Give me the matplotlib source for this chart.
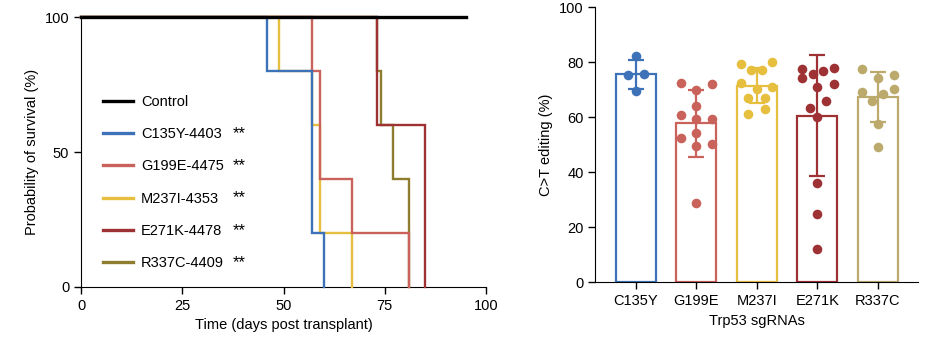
import numpy as np
import matplotlib
matplotlib.use('Agg')
import matplotlib.pyplot as plt

plt.rcParams['font.family'] = ['Liberation Sans', 'DejaVu Sans']
plt.rcParams['font.size'] = 10.5

# Datos de supervivencia (Kaplan-Meier, % vivos)
control_t = [0, 95]
control_s = [100, 100]
c135y_t = [0, 46, 57, 60]
c135y_s = [100, 80, 20, 0]
g199e_t = [0, 57, 59, 67, 81]
g199e_s = [100, 80, 40, 20, 0]
m237i_t = [0, 49, 57, 59, 67]
m237i_s = [100, 80, 60, 20, 0]
e271k_t = [0, 73, 85]
e271k_s = [100, 60, 0]
r337c_t = [0, 73, 74, 77, 81]
r337c_s = [100, 80, 60, 40, 0]
surv_labels = ['Control', 'C135Y-4403', 'G199E-4475', 'M237I-4353', 'E271K-4478', 'R337C-4409']

# Datos de edicion C>T (%)
groups = ['C135Y', 'G199E', 'M237I', 'E271K', 'R337C']
means = [75.7, 57.8, 71.5, 60.6, 67.5]
sds = [5.2, 12.1, 6.4, 22.0, 9.0]
c135y_pts = [82.4, 75.6, 75.8, 69.7]
g199e_pts = [72.4, 69.9, 72.0, 64.2, 60.8, 59.4, 59.4, 54.5, 52.6, 49.7, 50.5, 28.7]
m237i_pts = [79.6, 80.2, 77.2, 77.2, 72.4, 70.5, 71.1, 67.1, 67.2, 61.4, 63.0]
e271k_pts = [77.5, 74.5, 75.9, 76.9, 77.8, 71.1, 72.0, 65.9, 63.6, 60.0, 36.0, 24.7, 12.1]
r337c_pts = [77.7, 74.2, 75.4, 69.3, 70.3, 68.4, 65.9, 57.6, 49.3]

# Desplazamiento horizontal de los puntos (tipo beeswarm)
c135y_off = [0, -0.13, 0.14, 0]
g199e_off = [-0.26, 0, 0.26, 0, -0.26, 0, 0.26, 0, -0.26, 0, 0.26, 0]
m237i_off = [-0.27, 0.25, -0.09, 0.08, -0.27, 0, 0.25, -0.14, 0.14, -0.14, 0.14]
e271k_off = [-0.26, -0.26, -0.08, 0.09, 0.27, 0, 0.27, 0.14, -0.13, 0, 0, 0, 0]
r337c_off = [-0.26, 0, 0.26, -0.26, 0.26, 0.09, -0.09, 0, 0]

line_colors = ['black', '#3d72b8', '#c9625b', '#e6bf3e', '#9e3133', '#8f7d2f']
bar_colors = ['#3d72b8', '#c9625b', '#e6bf3e', '#9e3133', '#bcaa6c']

fig = plt.figure(figsize=(9.42, 3.53), dpi=100)
ax1 = fig.add_axes([0.086, 0.187, 0.430, 0.764])
ax2 = fig.add_axes([0.632, 0.200, 0.343, 0.779])

# ---- Grafica de supervivencia ----
curves = [(control_t, control_s), (c135y_t, c135y_s), (g199e_t, g199e_s),
          (m237i_t, m237i_s), (e271k_t, e271k_s), (r337c_t, r337c_s)]
handles = [None] * len(curves)
for i in range(len(curves) - 1, -1, -1):
    t, s = curves[i]
    lw = 2.4 if i == 0 else 1.7
    z = 5 if i == 0 else 3
    h, = ax1.step(t, s, where='post', color=line_colors[i], lw=lw, zorder=z,
                  clip_on=False, solid_joinstyle='miter')
    handles[i] = h

ax1.set_xlim(0, 100)
ax1.set_ylim(0, 100)
ax1.set_xticks([0, 25, 50, 75, 100])
ax1.set_yticks([0, 50, 100])
ax1.spines['top'].set_visible(False)
ax1.spines['right'].set_visible(False)
ax1.tick_params(direction='out', length=5, width=1)
ax1.set_xlabel('Time (days post transplant)')
ax1.set_ylabel('Probability of survival (%)')

leg = ax1.legend(handles, surv_labels, loc='upper left', bbox_to_anchor=(0.028, 0.75),
                 frameon=False, handlelength=2.1, handletextpad=0.55, labelspacing=1.25,
                 borderaxespad=0.3, fontsize=10.5)
for lh in leg.get_lines():
    lh.set_linewidth(2.4)

# Asteriscos de significancia junto a la leyenda (misma linea base)
fig.canvas.draw()
inv = fig.transFigure.inverted()
for txt in leg.get_texts()[1:]:
    bb = txt.get_window_extent()
    x_f, y_f = inv.transform((233, bb.y0))
    fig.text(x_f, y_f, '**', ha='left', va='bottom', fontsize=12)

# ---- Grafica de barras ----
pts = [c135y_pts, g199e_pts, m237i_pts, e271k_pts, r337c_pts]
offs = [c135y_off, g199e_off, m237i_off, e271k_off, r337c_off]
x = np.arange(len(groups))
for i in range(len(groups)):
    ax2.bar(x[i], means[i], width=0.66, facecolor='white', edgecolor=bar_colors[i],
            linewidth=1.6, zorder=2)
    ax2.errorbar(x[i], means[i], yerr=sds[i], color=bar_colors[i], capsize=6,
                 elinewidth=1.6, capthick=1.6, zorder=3)
    ax2.scatter(x[i] + np.array(offs[i]), pts[i], s=48, color=bar_colors[i],
                zorder=4, linewidths=0)

ax2.set_xlim(-0.67, 4.67)
ax2.set_ylim(0, 100)
ax2.set_yticks([0, 20, 40, 60, 80, 100])
ax2.set_xticks(x)
ax2.set_xticklabels(groups)
ax2.spines['top'].set_visible(False)
ax2.spines['right'].set_visible(False)
ax2.tick_params(direction='out', length=5, width=1)
ax2.set_xlabel('Trp53 sgRNAs')
ax2.set_ylabel('C>T editing (%)')

fig.savefig('out.png', dpi=100)
